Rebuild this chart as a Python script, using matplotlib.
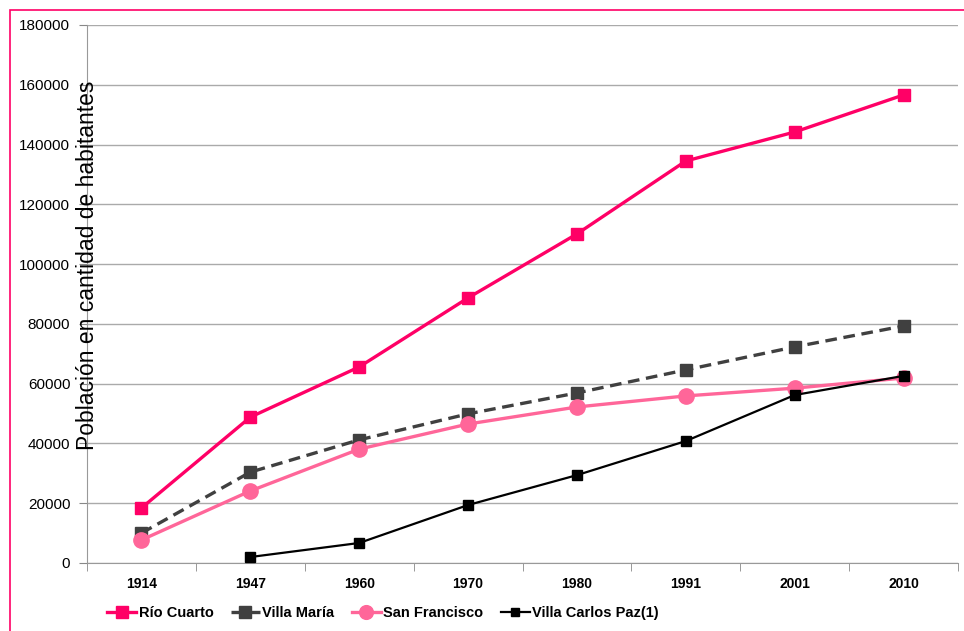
import numpy as np
import matplotlib
matplotlib.use("Agg")
import matplotlib.pyplot as plt
from matplotlib.patches import Rectangle

years = ["1914", "1947", "1960", "1970", "1980", "1991", "2001", "2010"]
rio_cuarto = [18400, 48800, 65600, 88700, 110100, 134500, 144200, 156600]
villa_maria = [10000, 30400, 41200, 49900, 56900, 64600, 72300, 79300]
san_francisco = [7700, 24100, 38100, 46500, 52200, 55900, 58500, 61900]
carlos_paz = [np.nan, 2000, 6700, 19400, 29400, 40800, 56200, 62600]

plt.rcParams['font.family'] = ['Liberation Sans', 'DejaVu Sans']

fig = plt.figure(figsize=(9.64, 6.31), dpi=100)
W, H = 964, 631
ax = fig.add_axes([87 / W, 1 - 563 / H, (958 - 87) / W, (563 - 25) / H])

x = np.arange(len(years))
ax.plot(x, rio_cuarto, color="#FF0066", lw=2.4, marker="s", ms=9, label="Río Cuarto", zorder=4)
ax.plot(x, villa_maria, color="#404040", lw=2.4, ls=(0, (3.5, 2)), marker="s", ms=9, label="Villa María", zorder=3)
ax.plot(x, san_francisco, color="#FF6699", lw=2.4, marker="o", ms=11, label="San Francisco", zorder=3)
ax.plot(x, carlos_paz, color="black", lw=1.6, marker="s", ms=7, label="Villa Carlos Paz(1)", zorder=5)

ax.set_xlim(-0.5, len(years) - 0.5)
ax.set_ylim(0, 180000)
ax.set_yticks(np.arange(0, 180001, 20000))
ax.set_yticklabels([str(v) for v in range(0, 180001, 20000)], fontsize=11)
ax.set_xticks(x)
ax.set_xticklabels(years, fontsize=10, fontweight="bold")
ax.tick_params(axis="x", length=0, pad=10)
ax.set_xticks(np.arange(-0.5, len(years)), minor=True)
ax.tick_params(axis="x", which="minor", length=6, color="#888888", direction="out")
ax.tick_params(axis="y", length=6, color="#888888", pad=6)

ax.grid(axis="y", color="#aaaaaa", lw=1)
ax.set_axisbelow(True)
for s in ["top", "right"]:
    ax.spines[s].set_visible(False)
ax.spines["left"].set_color("#999999")
ax.spines["bottom"].set_color("#999999")

fig.text(88 / W, 1 - 265 / H, "Población en cantidad de habitantes", rotation=90,
         fontsize=16.5, ha="center", va="center")

fig.legend(loc="center", bbox_to_anchor=(383 / W, 1 - 613 / H), ncol=4, frameon=False,
           prop={"weight": "bold", "size": 10.5},
           handlelength=2.0, columnspacing=1.2, handletextpad=0.15, markerscale=0.9)

fig.patches.append(Rectangle((10 / W, -0.1), 1.2, 1 - 10 / H + 0.1, transform=fig.transFigure,
                             fill=False, edgecolor="#FF0066", lw=1.2))

fig.savefig("out.png", dpi=100)
